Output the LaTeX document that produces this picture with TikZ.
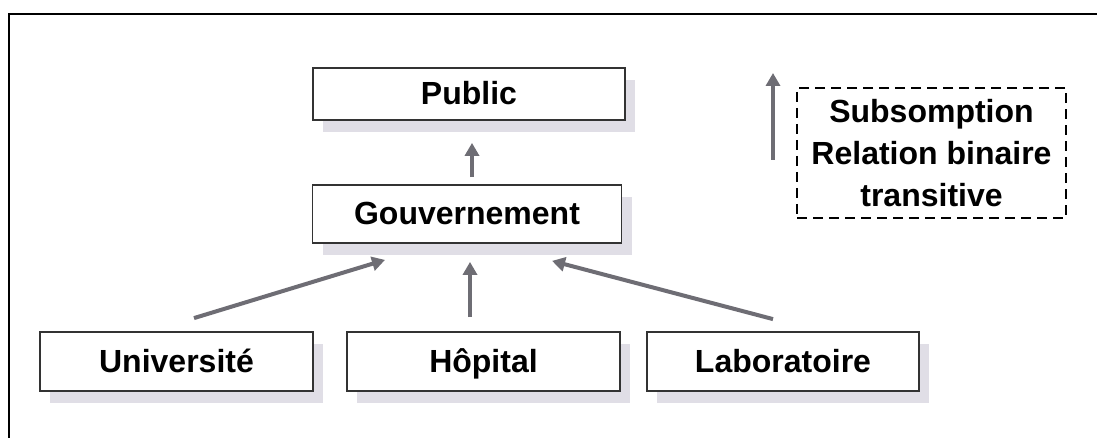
\documentclass[tikz,border=0pt]{standalone}
\usepackage{fontspec}
\setmainfont{Liberation Sans}
\usetikzlibrary{arrows.meta,shadows}
\definecolor{shadowc}{HTML}{E0DEE6}
\definecolor{arrowc}{HTML}{6E6D74}
\definecolor{boxc}{HTML}{333333}
\begin{document}
\begin{tikzpicture}[x=1pt,y=-1pt,
  conceptbox/.style={draw=boxc,line width=1.8pt,fill=white,rectangle,inner sep=0pt,
    text height=24pt,text depth=3pt,
    font=\fontsize{32}{42}\selectfont\bfseries,
    general shadow={shadow xshift=10pt,shadow yshift=-12pt,fill=shadowc}},
  arr/.style={draw=arrowc,line width=4pt,-{Triangle[length=13pt,width=14pt]}},
  legendbox/.style={draw=black,line width=2.4pt,dash pattern=on 10pt off 6pt,rectangle,inner sep=0pt,
    align=center,font=\fontsize{32}{42}\selectfont\bfseries}]
\useasboundingbox (0,0) rectangle (1097,438);
\fill[white] (0,0) rectangle (1097,438);
\draw[line width=2.6pt,line cap=rect] (1100,14) -- (9,14) -- (9,440);

\node[conceptbox,minimum width=312pt,minimum height=52pt] (public) at (469,94) {Public};
\node[conceptbox,minimum width=309pt,minimum height=58pt] (gouv) at (467,214) {Gouvernement};
\node[conceptbox,minimum width=273pt,minimum height=59pt] (univ) at (176.5,361.5) {Université};
\node[conceptbox,minimum width=273pt,minimum height=59pt] (hop) at (483.5,361.5) {Hôpital};
\node[conceptbox,minimum width=272pt,minimum height=59pt] (labo) at (783,361.5) {Laboratoire};

\node[legendbox,minimum width=269pt,minimum height=130pt] (legend) at (931.5,153)
  {Subsomption\\Relation binaire\\transitive};

\draw[arr] ([xshift=5pt,yshift=7pt]gouv.north) -- ([xshift=3pt,yshift=-22pt]public.south);
\draw[arr] ([xshift=17.5pt,yshift=13pt]univ.north) -- ([xshift=-82pt,yshift=-16pt]gouv.south);
\draw[arr] ([xshift=-13.5pt,yshift=14pt]hop.north) -- ([xshift=3pt,yshift=-18pt]gouv.south);
\draw[arr] ([xshift=-10pt,yshift=12pt]labo.north) -- ([xshift=85pt,yshift=-17pt]gouv.south);

\coordinate (legtail) at (773,160);
\coordinate (leghead) at (773,73);
\draw[arr] (legtail) -- (leghead);
\end{tikzpicture}
\end{document}
